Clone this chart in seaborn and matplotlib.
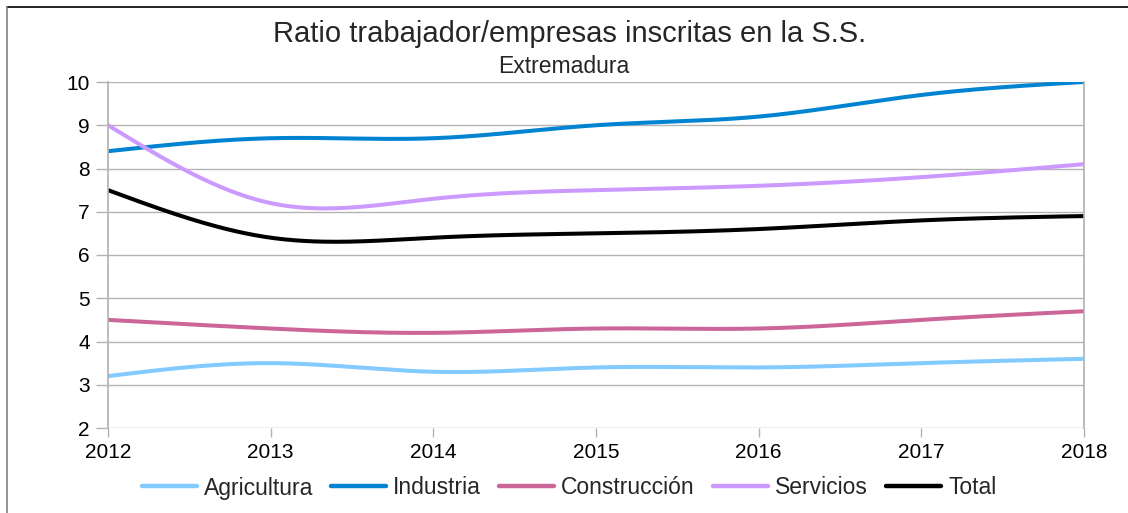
import numpy as np
import pandas as pd
import matplotlib
matplotlib.use("Agg")
import matplotlib.pyplot as plt
from matplotlib.lines import Line2D
import seaborn as sns

# data
years = [2012, 2013, 2014, 2015, 2016, 2017, 2018]
agricultura = [3.2, 3.5, 3.3, 3.4, 3.4, 3.5, 3.6]
industria = [8.4, 8.7, 8.7, 9.0, 9.2, 9.7, 10.0]
construccion = [4.5, 4.3, 4.2, 4.3, 4.3, 4.5, 4.7]
servicios = [9.0, 7.2, 7.3, 7.5, 7.6, 7.8, 8.1]
total = [7.5, 6.4, 6.4, 6.5, 6.6, 6.8, 6.9]

series_names = ["Agricultura", "Industria", "Construcción", "Servicios", "Total"]
colors = ["#83caff", "#0084d1", "#cc6699", "#cc99ff", "#000000"]


def natural_spline(x, y, n=300):
    # smooth line like the office-suite "cubic spline" option
    x = np.asarray(x, float)
    y = np.asarray(y, float)
    k = len(x)
    h = np.diff(x)
    A = np.zeros((k, k))
    r = np.zeros(k)
    A[0, 0] = A[-1, -1] = 1
    for i in range(1, k - 1):
        A[i, i - 1] = h[i - 1]
        A[i, i] = 2 * (h[i - 1] + h[i])
        A[i, i + 1] = h[i]
        r[i] = 3 * ((y[i + 1] - y[i]) / h[i] - (y[i] - y[i - 1]) / h[i - 1])
    c = np.linalg.solve(A, r)
    xs = np.linspace(x[0], x[-1], n)
    idx = np.clip(np.searchsorted(x, xs) - 1, 0, k - 2)
    b = (y[1:] - y[:-1]) / h - h * (2 * c[:-1] + c[1:]) / 3
    d = (c[1:] - c[:-1]) / (3 * h)
    dx = xs - x[idx]
    ys = y[idx] + b[idx] * dx + c[idx] * dx ** 2 + d[idx] * dx ** 3
    return xs, ys


frames = []
for name, vals in zip(series_names, [agricultura, industria, construccion, servicios, total]):
    xs, ys = natural_spline(years, vals)
    frames.append(pd.DataFrame({"year": xs, "ratio": ys, "serie": name}))
df = pd.concat(frames, ignore_index=True)

sns.set_theme(style="white")
plt.rcParams["font.family"] = ["Liberation Sans", "DejaVu Sans"]

fig = plt.figure(figsize=(11.28, 5.13), dpi=100)
ax = fig.add_axes([108 / 1128, 1 - 428 / 513, (1084 - 108) / 1128, (428 - 82) / 513])

sns.lineplot(data=df, x="year", y="ratio", hue="serie", hue_order=series_names,
             palette=colors, linewidth=2.9, ax=ax, legend=False, sort=False)

ax.set_xlim(2012, 2018)
ax.set_ylim(2, 10)
ax.set_xticks(years)
ax.set_yticks(range(2, 11))
ax.tick_params(axis="both", labelsize=15, colors="#b3b3b3", labelcolor="black",
               width=1, direction="out", bottom=True, left=True)
ax.tick_params(axis="y", length=9, pad=4)
ax.tick_params(axis="x", length=6.5, pad=4.5)
ax.grid(axis="y", color="#b3b3b3", linewidth=1)
for s in ["left", "right"]:
    ax.spines[s].set_color("#b3b3b3")
ax.spines["top"].set_visible(False)
ax.spines["bottom"].set_visible(False)
ax.set_xlabel("")
ax.set_ylabel("")

fig.text(570 / 1128, 1 - 34 / 513, "Ratio trabajador/empresas inscritas en la S.S.",
         ha="center", va="center", fontsize=21)
fig.text(564 / 1128, 1 - 67 / 513, "Extremadura", ha="center", va="center", fontsize=16.5)

handles = [Line2D([0], [0], color=c, linewidth=3.2) for c in colors]
fig.legend(handles, series_names, loc="center", bbox_to_anchor=(569 / 1128, 1 - 488 / 513),
           ncol=5, frameon=False, fontsize=16.5, handlelength=2.4,
           handletextpad=0.3, columnspacing=0.8, borderpad=0, borderaxespad=0)

# outer chart frame
fig.add_artist(Line2D([7 / 1128, 1], [1 - 7 / 513, 1 - 7 / 513], color="black", linewidth=1.2))
fig.add_artist(Line2D([7 / 1128, 7 / 1128], [0, 1 - 7 / 513], color="#808080", linewidth=1.2))

fig.savefig("out.png", dpi=100)
